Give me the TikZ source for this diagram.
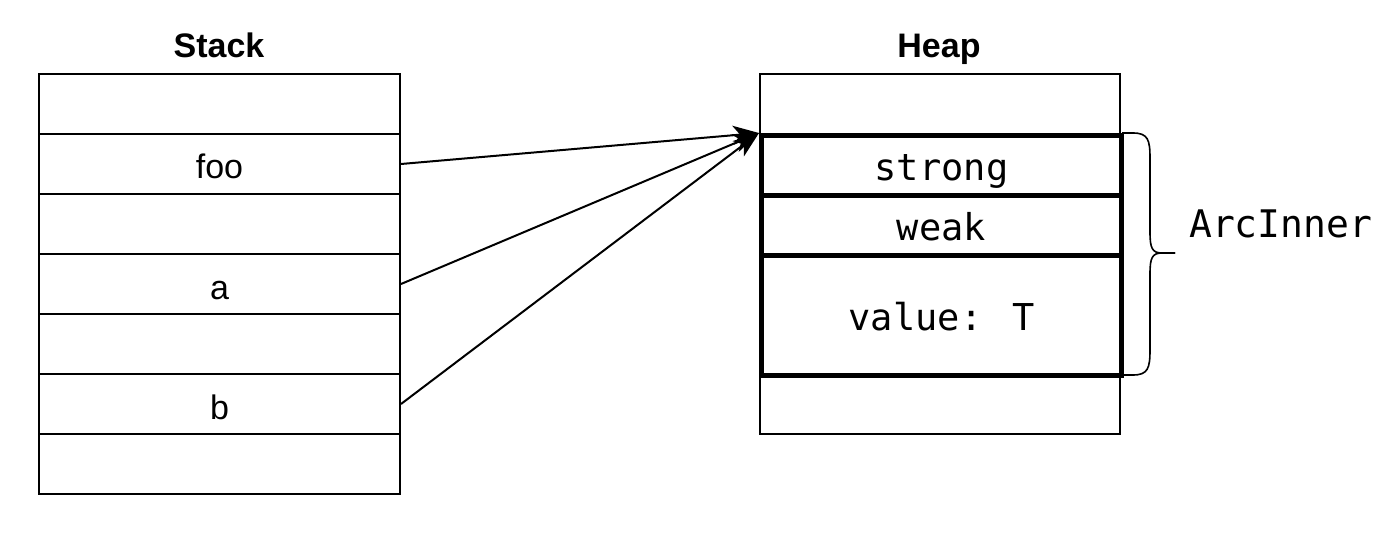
\documentclass[tikz,border=0pt]{standalone}
\usepackage{fontspec}
\setmainfont{Liberation Sans}
\newfontfamily\monof{DejaVu Sans Mono}
\usetikzlibrary{arrows.meta}
\begin{document}
\begin{tikzpicture}[x=1pt,y=-1pt,
  cell/.style={draw, line width=2pt, minimum width=361pt, minimum height=60pt, inner sep=0pt, text height=30pt, text depth=0pt, anchor=north west, font=\fontsize{34}{40}\selectfont},
  hcell/.style={draw, line width=2pt, minimum width=360pt, inner sep=0pt, text height=30pt, text depth=0pt, anchor=north west, font=\monof\fontsize{37}{44}\selectfont},
  thickcell/.style={hcell, line width=5pt},
  title/.style={anchor=base, inner sep=0pt, font=\bfseries\fontsize{34}{40}\selectfont},
  ptr/.style={line width=2pt, -{Stealth[length=26pt,width=19pt,inset=7pt]}},
  brace/.style={line width=1.6pt}
]
\useasboundingbox (0,0) rectangle (1398,548);
% Stack
\node[title] (stacktitle) at (219,58) {Stack};
\node[cell] (s1) at (38,73) {};
\node[cell] (foo) at (38,133) {foo};
\node[cell] (s3) at (38,193) {};
\node[cell] (a) at (38,253) {a};
\node[cell] (s5) at (38,313) {};
\node[cell] (b) at (38,373) {b};
\node[cell] (s7) at (38,433) {};
% Heap
\node[title] (heaptitle) at (939,58) {Heap};
\node[hcell, minimum height=60pt] (h1) at (759,73) {};
\node[hcell, minimum height=60pt] (h5) at (759,373) {};
\node[thickcell, minimum height=60pt] (strong) at (759,133) {strong};
\node[thickcell, minimum height=60pt] (weak) at (759,193) {weak};
\node[thickcell, minimum height=120pt] (value) at (759,253) {value: T};
% Arrows
\draw[ptr] (foo.east) -- (strong.north west);
\draw[ptr] (a.east) -- (strong.north west);
\draw[ptr] (b.east) -- (strong.north west);
% Brace
\coordinate (bt) at (1122,133);
\coordinate (bm) at (1175,253);
\coordinate (bb) at (1122,375);
\draw[brace] (bt) -- (1133,133) .. controls (1148,133) and (1150,140) .. (1150,158)
  -- (1150,232) .. controls (1150,248) and (1152,253) .. (1162,253) -- (bm);
\draw[brace] (bm) -- (1162,253) .. controls (1152,253) and (1150,258) .. (1150,274)
  -- (1150,350) .. controls (1150,368) and (1148,375) .. (1133,375) -- (bb);
\node[anchor=base west, inner sep=0pt, font=\monof\fontsize{38}{44}\selectfont] (arcinner) at (1189,238) {ArcInner};
\end{tikzpicture}
\end{document}
